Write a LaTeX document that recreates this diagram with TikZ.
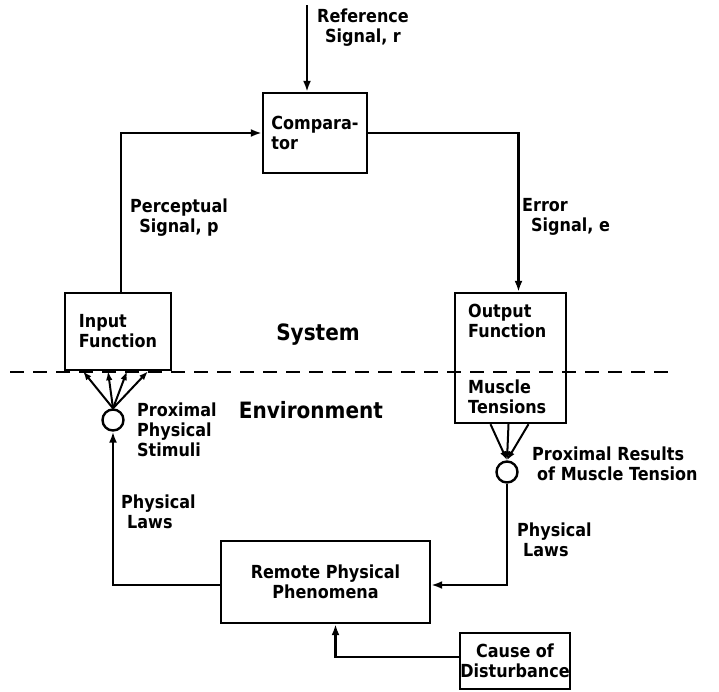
\documentclass[tikz,border=0pt]{standalone}
\usepackage{fontspec}
\setmainfont{DejaVu Sans}[FakeStretch=0.89]
\usetikzlibrary{arrows.meta,calc}
\newcommand\lblfont{\bfseries\fontsize{18}{20}\selectfont}
\newcommand\bigfont{\bfseries\fontsize{22.5}{24}\selectfont}
\begin{document}
\begin{tikzpicture}[x=1pt,y=-1pt,
  line width=2.4pt,
  box/.style={draw,rectangle,inner sep=0pt,align=center,font=\lblfont},
  lab/.style={inner sep=0pt,font=\lblfont},
  big/.style={inner sep=0pt,font=\bigfont},
  junc/.style={draw,circle,inner sep=0pt,minimum size=21pt},
  arr/.style={-{Latex[length=11pt,width=8pt]}},
  sarr/.style={-{Latex[length=9pt,width=6.5pt]},line width=2pt}
]
\useasboundingbox (0,0) rectangle (719,691);

% boxes
\node[box,minimum width=104pt,minimum height=80pt,align=left] (cmp) at (315,133) {Compara-\\tor};
\node[box,minimum width=106pt,minimum height=77pt,align=left] (inp) at (118,331.5) {Input\\Function};
\node[box,minimum width=111pt,minimum height=130pt] (out) at (510.5,358) {};
\node[lab,anchor=north west,align=left] (outtxt) at (467,303) {Output\\Function};
\node[lab,anchor=north west,align=left] (mustxt) at (467,379) {Muscle\\Tensions};
\node[box,minimum width=209pt,minimum height=82pt] (rem) at (325.5,582) {Remote Physical\\Phenomena};
\node[box,minimum width=110pt,minimum height=56pt] (cause) at (515,661) {Cause of\\Disturbance};

% junctions
\node[junc] (cl) at (113,420) {};
\node[junc] (cr) at (507,472) {};

% dashed boundary
\coordinate (dl) at (10,372);
\coordinate (dr) at (668,372);
\draw[dash pattern=on 14pt off 9pt,line width=2pt] (dl) -- (dr);

% reference input
\coordinate (ref) at (307,5);
\draw[arr] (ref) -- (ref |- cmp.north);
\node[lab,anchor=north,align=center] (reftxt) at (363,8) {Reference\\Signal, r};

% loop connectors
\draw[arr] ([xshift=3pt]inp.north) |- (cmp.west);
\draw[arr] (cmp.east) -| ([xshift=8pt]out.north);
\draw[sarr] (cl.north) -- ([xshift=-35pt]inp.south);
\draw[sarr] (cl.north) -- ([xshift=-10pt]inp.south);
\draw[sarr] (cl.north) -- ([xshift=9pt]inp.south);
\draw[sarr] (cl.north) -- ([xshift=30pt]inp.south);
\draw[sarr] ([xshift=-20pt]out.south) -- (cr.north);
\draw[sarr] ([xshift=-2pt]out.south) -- (cr.north);
\draw[sarr] ([xshift=18pt]out.south) -- (cr.north);
\draw[arr] ([yshift=-3pt]rem.west) -| (cl.south);
\draw[arr] (cr.south) |- ([yshift=-3pt]rem.east);
\draw[arr] ([yshift=4pt]cause.west) -| ([xshift=10pt]rem.south);

% labels
\node[lab,align=center] (perc) at (179,218) {Perceptual\\Signal, p};
\node[lab,anchor=north west,align=left] (err) at (521,197) {Error\\\hspace*{9pt}Signal, e};
\node[big] (sys) at (318,335) {System};
\node[big] (env) at (311,410) {Environment};
\node[lab,anchor=north west,align=left] (pps) at (136,402) {Proximal\\Physical\\Stimuli};
\node[lab,anchor=north west,align=left] (prm) at (531,446) {Proximal Results\\\hspace*{5pt}of Muscle Tension};
\node[lab,anchor=north west,align=left] (pll) at (120,494) {Physical\\\hspace*{6pt}Laws};
\node[lab,anchor=north west,align=left] (plr) at (516,522) {Physical\\\hspace*{6pt}Laws};
\end{tikzpicture}
\end{document}
